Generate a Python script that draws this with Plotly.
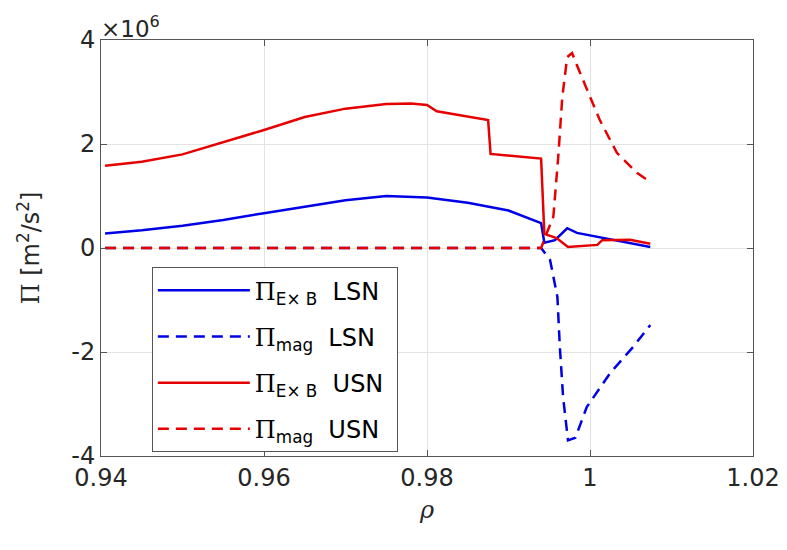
import numpy as np
import plotly.graph_objects as go

# values in units of 1e6 m^2/s^2
lsn_exb_rho = [0.9405, 0.945, 0.95, 0.955, 0.96, 0.965, 0.97, 0.975, 0.98, 0.985, 0.99, 0.994,
               0.9944, 0.9957, 0.9972, 0.9984, 1.0012, 1.0025, 1.0074]
lsn_exb_val = [0.28, 0.34, 0.43, 0.54, 0.67, 0.8, 0.92, 1.0, 0.97, 0.87, 0.72, 0.48,
               0.10, 0.15, 0.38, 0.29, 0.21, 0.17, 0.02]

lsn_mag_rho = [0.9405, 0.994, 0.9951, 0.9960, 0.9963, 0.9967, 0.9973, 0.9982, 0.9996,
               1.0025, 1.0053, 1.0074]
lsn_mag_val = [0.0, 0.0, -0.23, -0.94, -1.9, -2.87, -3.7, -3.65, -3.06, -2.4, -1.9, -1.48]

usn_exb_rho = [0.9405, 0.945, 0.95, 0.955, 0.96, 0.965, 0.97, 0.975, 0.978, 0.98, 0.9812,
               0.9875, 0.9878, 0.994, 0.9944, 0.9959, 0.9973, 1.0009, 1.0015, 1.0049, 1.0074]
usn_exb_val = [1.58, 1.66, 1.8, 2.03, 2.27, 2.52, 2.68, 2.77, 2.78, 2.75, 2.63,
               2.46, 1.81, 1.72, 0.27, 0.19, 0.02, 0.06, 0.15, 0.16, 0.08]

usn_mag_rho = [0.9405, 0.994, 0.9947, 0.9955, 0.9961, 0.9966, 0.9972, 0.9978, 0.9988,
               1.0012, 1.0033, 1.0058, 1.0074]
usn_mag_val = [0.0, 0.0, 0.29, 0.6, 1.75, 2.9, 3.67, 3.75, 3.36, 2.46, 1.83, 1.44, 1.27]

x_ticks = [0.94, 0.96, 0.98, 1.0, 1.02]
x_ticktext = ["0.94", "0.96", "0.98", "1", "1.02"]
y_ticks = [-4, -2, 0, 2, 4]
y_ticktext = ["-4", "-2", "0", "2", "4"]
scale = 1e6

BLUE = "#0000e6"
RED = "#e60000"
PI = '<span style="font-family:DejaVu Serif">Π</span>'
DASH = "11px,7px"

series = [
    (lsn_exb_rho, lsn_exb_val, BLUE, "solid", PI + "<sub>E× B</sub>  LSN ", "g1"),
    (lsn_mag_rho, lsn_mag_val, BLUE, DASH, PI + "<sub>mag</sub>  LSN ", "g2"),
    (usn_exb_rho, usn_exb_val, RED, "solid", PI + "<sub>E× B</sub>  USN ", "g3"),
    (usn_mag_rho, usn_mag_val, RED, DASH, PI + "<sub>mag</sub>  USN ", "g4"),
]

fig = go.Figure()
for xr, yv, col, dash, name, grp in series:
    fig.add_trace(go.Scatter(
        x=xr, y=np.array(yv) * scale, mode="lines", name=name, legendgroup=grp,
        line=dict(color=col, width=2.5, dash=dash)))

axis_common = dict(
    showline=True, linecolor="#555555", linewidth=1, mirror="ticks",
    ticks="inside", ticklen=6, tickcolor="#555555",
    showgrid=True, gridcolor="#e3e3e3", gridwidth=1, zeroline=False,
    tickfont=dict(family="DejaVu Sans", size=24, color="#262626"),
)

# page body has an 8px margin; plot area targeted at x 101-753, y 40-456 in the window
fig.update_layout(
    width=787, height=550,
    margin=dict(l=93, r=42, t=32, b=102),
    paper_bgcolor="white", plot_bgcolor="white",
    font=dict(family="DejaVu Sans", color="#262626"),
    xaxis=dict(range=[0.94, 1.02], tickvals=x_ticks, ticktext=x_ticktext,
               title=dict(text="<i>ρ</i>", font=dict(size=24, family="DejaVu Serif"), standoff=10),
               **axis_common),
    yaxis=dict(range=[-4 * scale, 4 * scale], tickvals=[v * scale for v in y_ticks],
               ticktext=y_ticktext,
               title=dict(text=PI + " [m<sup>2</sup>/s<sup>2</sup>]", font=dict(size=24), standoff=24),
               **axis_common),
    legend=dict(x=0.078, y=0.454, xanchor="left", yanchor="top",
                bgcolor="white", bordercolor="#555555", borderwidth=1,
                font=dict(family="DejaVu Sans", size=24, color="black"),
                itemwidth=92, tracegroupgap=12),
    showlegend=True,
)

fig.add_annotation(
    x=0, y=1, xref="paper", yref="paper", xanchor="left", yanchor="bottom",
    text="×10<sup>6</sup>", showarrow=False,
    font=dict(family="DejaVu Sans", size=23, color="#262626"), yshift=-4, xshift=-2)

fig.write_html("out.html")
